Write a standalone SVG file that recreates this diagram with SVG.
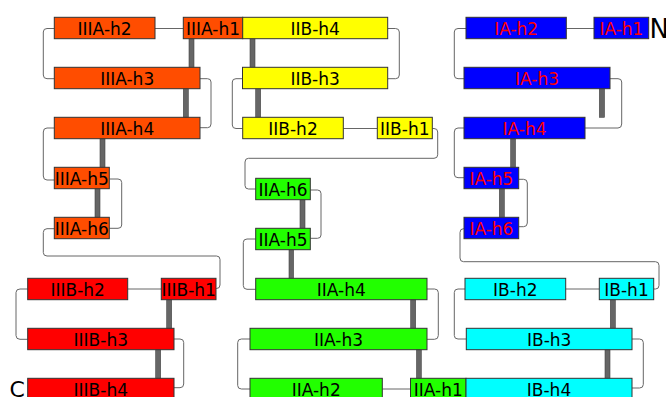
<svg xmlns="http://www.w3.org/2000/svg" width="666" height="397" viewBox="0 0 666 397">
<style>
rect.n{stroke:#333;stroke-width:1}
.iiia{fill:#ff4d00}.iiib{fill:#ff0000}.iib{fill:#ffff00}.iia{fill:#22ff00}.ib{fill:#00ffff}.ia{fill:#0000ff}
text{font-family:"DejaVu Sans",sans-serif;font-size:17px;text-anchor:middle;fill:#000}
text.r{fill:#ff0000}
text.big{text-anchor:start}
.bar{fill:#666;stroke:#444;stroke-width:0.6}
.c{fill:none;stroke:#666;stroke-width:1}
</style>
<rect width="666" height="397" fill="#fff"/>
<g id="connectors">
<path class="c" d="M155 28.5H183.5M343.3 128.5H377.3M566.3 28.5H594M127.7 289H161.3M382.3 389H410.5M565.7 289H599.3"/>
<path class="c" d="M54.3 28.5H47Q43.3 28.5 43.3 32V75Q43.3 78.7 47 78.7H54.3"/>
<path class="c" d="M54.3 128H47Q43.3 128 43.3 132V176Q43.3 180 47 180H54.3"/>
<path class="c" d="M242.5 78.7H236Q232.3 78.7 232.3 82V125Q232.3 128.5 236 128.5H242.7"/>
<path class="c" d="M255.7 239H247Q243.3 239 243.3 242.5V285.5Q243.3 289.3 247 289.3H255.7"/>
<path class="c" d="M250 339H241.5Q237.7 339 237.7 342.5V385.5Q237.7 389 241.5 389H250"/>
<path class="c" d="M466 28.5H458Q454.3 28.5 454.3 32V75Q454.3 78.7 458 78.7H464"/>
<path class="c" d="M464 128H458Q454.3 128 454.3 132V174Q454.3 177.7 458 177.7H464"/>
<path class="c" d="M465 289H458Q454.3 289 454.3 292.5V335.5Q454.3 339 458 339H466.3"/>
<path class="c" d="M27.7 289H20Q16 289 16 292.5V335.5Q16 339.3 20 339.3H27.7"/>
<path class="c" d="M200 78.7H207.5Q211 78.7 211 82V124Q211 127.7 207.5 127.7H200"/>
<path class="c" d="M109.3 179H118Q121.7 179 121.7 182.5V225Q121.7 228.3 118 228.3H109.3"/>
<path class="c" d="M387.7 28.5H395.5Q399.3 28.5 399.3 32V75Q399.3 78.7 395.5 78.7H387.7"/>
<path class="c" d="M310.3 190H317.5Q321 190 321 193.5V235Q321 238.3 317.5 238.3H310.3"/>
<path class="c" d="M427 289H434.5Q438.3 289 438.3 292.5V335.5Q438.3 339.3 434.5 339.3H427"/>
<path class="c" d="M610 78.7H618Q621.7 78.7 621.7 82V124Q621.7 128 618 128H585"/>
<path class="c" d="M518.7 179.3H523.5Q527.3 179.3 527.3 183V223Q527.3 226.7 523.5 226.7H518.7"/>
<path class="c" d="M632 339H639.5Q643.3 339 643.3 342.5V384.5Q643.3 388 639.5 388H632"/>
<path class="c" d="M174 339H180Q183.7 339 183.7 342.5V384Q183.7 387.7 180 387.7H174"/>
<path class="c" d="M54.3 228.7H47Q43.3 228.7 43.3 232.5V252.5Q43.3 256 47 256H216.5Q220 256 220 259.5V285Q220 288.5 216.5 288.5H216"/>
<path class="c" d="M432.3 128.5H434Q437.7 128.5 437.7 132V154.8Q437.7 158.3 434 158.3H248.5Q245 158.3 245 162V185.5Q245 189 248.5 189H255.7"/>
<path class="c" d="M464.3 228.7H463.5Q460 228.7 460 232.5V258Q460 261.7 463.5 261.7H655.5Q659 261.7 659 265.5V285.5Q659 289 655.5 289H653.7"/>
<rect class="bar" x="189" y="38.7" width="5" height="28.6"/>
<rect class="bar" x="183.3" y="88.7" width="5" height="28.6"/>
<rect class="bar" x="100" y="138.7" width="5" height="28.6"/>
<rect class="bar" x="95" y="188.7" width="5" height="28.6"/>
<rect class="bar" x="250" y="38.7" width="5" height="28.6"/>
<rect class="bar" x="255.7" y="88.7" width="5" height="28.6"/>
<rect class="bar" x="300" y="199.7" width="5" height="28.6"/>
<rect class="bar" x="289" y="249.7" width="4.6" height="28.6"/>
<rect class="bar" x="410.7" y="299.7" width="5" height="28.6"/>
<rect class="bar" x="416.5" y="349.7" width="4.8" height="28.6"/>
<rect class="bar" x="599.3" y="88.7" width="5.2" height="28.6"/>
<rect class="bar" x="510.7" y="138.7" width="4.8" height="28.6"/>
<rect class="bar" x="499.3" y="188.7" width="5" height="28.6"/>
<rect class="bar" x="610.3" y="299.7" width="5" height="28.6"/>
<rect class="bar" x="605" y="349.7" width="5" height="28.6"/>
<rect class="bar" x="166.7" y="299.7" width="5" height="28.6"/>
<rect class="bar" x="155.7" y="349.7" width="5" height="28.6"/>
</g>
<g id="IIIA-h2"><rect class="n iiia" x="54.3" y="17.3" width="100.7" height="21.4"/><text x="104.6" y="34.5">IIIA-h2</text></g>
<g id="IIIA-h1"><rect class="n iiia" x="183.3" y="17.3" width="59.4" height="21.4"/><text x="213" y="34.5">IIIA-h1</text></g>
<g id="IIIA-h3"><rect class="n iiia" x="54.3" y="67.3" width="145.7" height="21.4"/><text x="127.2" y="84.5">IIIA-h3</text></g>
<g id="IIIA-h4"><rect class="n iiia" x="54.3" y="117.3" width="145.7" height="21.4"/><text x="127.2" y="134.5">IIIA-h4</text></g>
<g id="IIIA-h5"><rect class="n iiia" x="54.3" y="167.3" width="55" height="21.4"/><text x="81.8" y="184.5">IIIA-h5</text></g>
<g id="IIIA-h6"><rect class="n iiia" x="54.3" y="217.3" width="55" height="21.4"/><text x="81.8" y="234.5">IIIA-h6</text></g>
<g id="IIB-h4"><rect class="n iib" x="242.7" y="17.3" width="145" height="21.4"/><text x="315.2" y="34.5">IIB-h4</text></g>
<g id="IIB-h3"><rect class="n iib" x="242.5" y="67.3" width="145.2" height="21.4"/><text x="315.1" y="84.5">IIB-h3</text></g>
<g id="IIB-h2"><rect class="n iib" x="242.7" y="117.3" width="100.6" height="21.4"/><text x="293" y="134.5">IIB-h2</text></g>
<g id="IIB-h1"><rect class="n iib" x="377.3" y="117.3" width="55" height="21.4"/><text x="404.8" y="134.5">IIB-h1</text></g>
<g id="IIA-h6"><rect class="n iia" x="255.7" y="178.3" width="54.6" height="21.4"/><text x="283" y="195.5">IIA-h6</text></g>
<g id="IIA-h5"><rect class="n iia" x="255.7" y="228.3" width="54.6" height="21.4"/><text x="283" y="245.5">IIA-h5</text></g>
<g id="IIA-h4"><rect class="n iia" x="255.7" y="278.3" width="171.3" height="21.4"/><text x="341.3" y="295.5">IIA-h4</text></g>
<g id="IIA-h3"><rect class="n iia" x="250" y="328.3" width="177" height="21.4"/><text x="338.5" y="345.5">IIA-h3</text></g>
<g id="IIA-h2"><rect class="n iia" x="250" y="378.3" width="132.3" height="21.4"/><text x="316.2" y="395.5">IIA-h2</text></g>
<g id="IIA-h1"><rect class="n iia" x="410.5" y="378.3" width="55.5" height="21.4"/><text x="438.3" y="395.5">IIA-h1</text></g>
<g id="IA-h2"><rect class="n ia" x="466" y="17.3" width="100.3" height="21.4"/><text class="r" x="516.2" y="34.5">IA-h2</text></g>
<g id="IA-h1"><rect class="n ia" x="594" y="17.3" width="54.7" height="21.4"/><text class="r" x="621.4" y="34.5">IA-h1</text></g>
<g id="IA-h3"><rect class="n ia" x="464" y="67.3" width="146" height="21.4"/><text class="r" x="537" y="84.5">IA-h3</text></g>
<g id="IA-h4"><rect class="n ia" x="464" y="117.3" width="121" height="21.4"/><text class="r" x="524.5" y="134.5">IA-h4</text></g>
<g id="IA-h5"><rect class="n ia" x="464" y="167.3" width="54.7" height="21.4"/><text class="r" x="491.4" y="184.5">IA-h5</text></g>
<g id="IA-h6"><rect class="n ia" x="464" y="217.3" width="54.7" height="21.4"/><text class="r" x="491.4" y="234.5">IA-h6</text></g>
<g id="IB-h2"><rect class="n ib" x="465" y="278.3" width="100.7" height="21.4"/><text x="515.3" y="295.5">IB-h2</text></g>
<g id="IB-h1"><rect class="n ib" x="599.3" y="278.3" width="54.4" height="21.4"/><text x="626.5" y="295.5">IB-h1</text></g>
<g id="IB-h3"><rect class="n ib" x="466.3" y="328.3" width="165.7" height="21.4"/><text x="549.2" y="345.5">IB-h3</text></g>
<g id="IB-h4"><rect class="n ib" x="466" y="378.3" width="166" height="21.4"/><text x="549" y="395.5">IB-h4</text></g>
<g id="IIIB-h2"><rect class="n iiib" x="27.7" y="278.3" width="100" height="21.4"/><text x="77.7" y="295.5">IIIB-h2</text></g>
<g id="IIIB-h1"><rect class="n iiib" x="161.3" y="278.3" width="54.7" height="21.4"/><text x="188.7" y="295.5">IIIB-h1</text></g>
<g id="IIIB-h3"><rect class="n iiib" x="27.7" y="328.3" width="146.3" height="21.4"/><text x="100.8" y="345.5">IIIB-h3</text></g>
<g id="IIIB-h4"><rect class="n iiib" x="27.7" y="378.3" width="146.3" height="21.4"/><text x="100.8" y="395.5">IIIB-h4</text></g>
<g id="labels">
<text class="big" x="649.5" y="37.7" style="font-size:26px">N</text>
<text class="big" x="9.5" y="397" style="font-size:22px">C</text>
</g>
</svg>
